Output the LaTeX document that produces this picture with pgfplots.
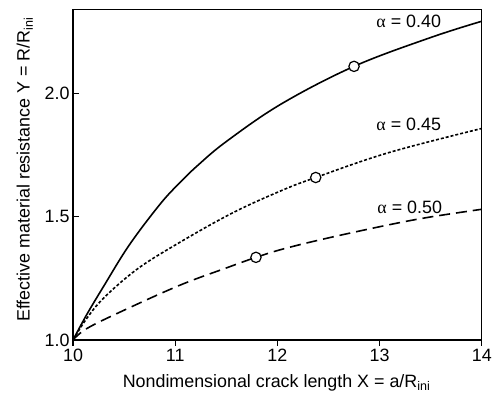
\documentclass[border=0pt]{standalone}
\usepackage{fontspec}
\setmainfont{Liberation Sans}
\newfontfamily\greekfont{Liberation Serif}
\usepackage{pgfplots}
\pgfplotsset{compat=1.18}

\pgfplotstableread{
x      y
10.00  1.000
10.13  1.100
10.30  1.218
10.55  1.385
10.85  1.550
11.04  1.636
11.22  1.708
11.50  1.805
12.04  1.958
12.75  2.110
13.50  2.227
14.00  2.293
}\alphaforty

\pgfplotstableread{
x      y
10.00  1.000
10.13  1.085
10.30  1.170
10.62  1.285
11.00  1.385
11.55  1.513
12.04  1.606
12.375 1.659
13.09  1.760
14.00  1.858
}\alphafortyfive

\pgfplotstableread{
x      y
10.00  1.000
10.13  1.045
10.455 1.112
11.04  1.221
11.50  1.292
11.79  1.335
12.065 1.370
12.50  1.414
13.09  1.467
13.50  1.499
14.00  1.530
}\alphafifty

\begin{document}
\begin{tikzpicture}[font=\fontsize{18}{21}\selectfont]
\begin{axis}[
  scale only axis,
  width=410bp, height=331.3bp,
  xmin=10, xmax=14, ymin=1.0, ymax=2.34,
  xtick={10,11,12,13,14},
  ytick={1.0,1.5,2.0},
  yticklabel style={/pgf/number format/.cd,fixed,fixed zerofill,precision=1},
  /pgf/number format/assume math mode=true,
  xtick pos=bottom, ytick pos=left,
  xtick align=outside, ytick align=inside,
  major tick length=6bp,
  tick style={line width=1.2bp, black},
  axis line style={line width=1.3bp},
  minor tick num=0,
  clip=false,
  xlabel={Nondimensional crack length X = a/R\textsubscript{ini}},
  ylabel={Effective material resistance Y = R/R\textsubscript{ini}},
  xlabel style={at={(axis description cs:0.498,-0.145)}, anchor=base},
  ylabel style={at={(axis description cs:-0.118,0.516)}, anchor=center},
  every axis plot/.append style={line width=1.6bp, black},
]
\addplot[smooth, tension=0.6] table[x=x,y=y] {\alphaforty};
\addplot[smooth, tension=0.6, dash pattern=on 3bp off 2bp] table[x=x,y=y] {\alphafortyfive};
\addplot[smooth, tension=0.6, dash pattern=on 11bp off 6bp] table[x=x,y=y] {\alphafifty};

% reference points on each curve
\addplot[only marks, mark=*, mark size=5.2bp,
  mark options={fill=white, draw=black, line width=1.2bp, solid}]
  coordinates {(12.75,2.110) (12.375,1.659) (11.79,1.335)};

\node at (axis cs:13.285,2.291) {{\greekfont α} = 0.40};
\node at (axis cs:13.285,1.874) {{\greekfont α} = 0.45};
\node at (axis cs:13.295,1.538) {{\greekfont α} = 0.50};

\path (rel axis cs:-0.1788,-0.16) rectangle (rel axis cs:1.0285,1.0293);
\end{axis}
\end{tikzpicture}
\end{document}
